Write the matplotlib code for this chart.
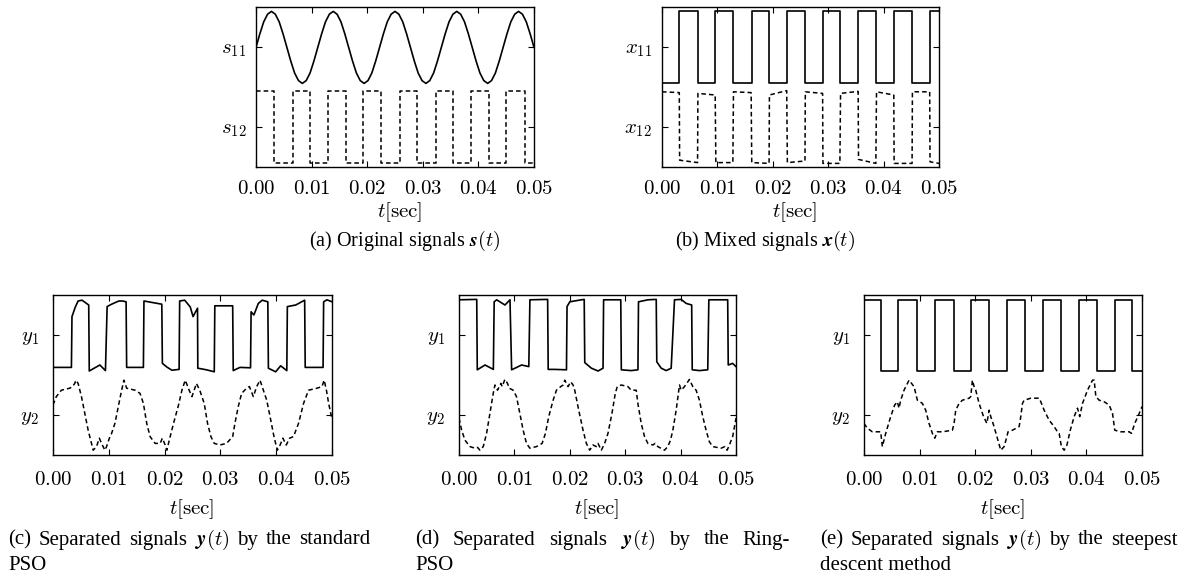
import numpy as np
import matplotlib
matplotlib.use("Agg")
import matplotlib.pyplot as plt

plt.rcParams["font.family"] = "serif"
plt.rcParams["font.serif"] = ["Liberation Serif", "DejaVu Serif"]
plt.rcParams["mathtext.fontset"] = "cm"

W, H = 1192, 578

# x axis (seconds)
xticks = [0.00, 0.01, 0.02, 0.03, 0.04, 0.05]
xtick_labels = ["0.00", "0.01", "0.02", "0.03", "0.04", "0.05"]

# ---- (a) original signals, time in ms ----
# s11 sampled every 1/16 period (4.5 periods over 50 ms)
s11_v = [0.99, 1.33, 1.63, 1.82, 1.89, 1.82, 1.63, 1.33, 0.99, 0.65, 0.35, 0.16, 0.09, 0.16, 0.35, 0.65,
         0.99, 1.33, 1.63, 1.82, 1.89, 1.82, 1.63, 1.33, 0.99, 0.65, 0.35, 0.16, 0.09, 0.16, 0.35, 0.65,
         0.99, 1.33, 1.63, 1.82, 1.89, 1.82, 1.63, 1.33, 0.99, 0.65, 0.35, 0.16, 0.09, 0.16, 0.35, 0.65,
         0.99, 1.33, 1.63, 1.82, 1.89, 1.82, 1.63, 1.33, 0.99, 0.65, 0.35, 0.16, 0.09, 0.16, 0.35, 0.65,
         0.99, 1.33, 1.63, 1.82, 1.89, 1.82, 1.63, 1.33, 0.99]
s12_t = [0, 3.23, 6.59, 9.70, 12.99, 16.11, 19.28, 22.57, 25.87, 28.98, 32.34, 35.45, 38.74, 41.92, 45.03, 48.32, 50]
s12_v = [-0.09, -1.91, -0.09, -1.91, -0.09, -1.91, -0.09, -1.91, -0.09, -1.91, -0.09, -1.91, -0.09, -1.91,
         -0.09, -1.91, -1.91]

# ---- (b) mixed signals ----
x11_t = [0, 3.12, 6.42, 9.6, 12.9, 16.2, 19.4, 22.5, 25.8, 29.0, 32.2, 35.4, 38.7, 41.8, 45.1, 48.3, 50]
x11_v = [0.11, 1.89, 0.11, 1.89, 0.11, 1.89, 0.11, 1.89, 0.11, 1.89, 0.11, 1.89, 0.11, 1.89, 0.11, 1.89, 1.89]
x12_t = [0, 3.12, 3.18, 6.42, 6.48, 9.6, 9.72, 12.79, 12.9, 16.09, 16.2, 19.33, 19.39, 22.51, 22.63, 25.81,
         25.87, 28.99, 29.05, 32.11, 32.23, 35.41, 35.47, 38.6, 38.72, 41.84, 41.9, 45.14, 45.2, 48.32, 48.38, 50]
x12_v = [-0.12, -0.14, -1.83, -1.89, -0.16, -0.2, -1.89, -1.89, -0.12, -0.14, -1.89, -1.91, -0.2, -0.09, -1.89,
         -1.85, -0.12, -0.16, -1.91, -1.91, -0.16, -0.11, -1.81, -1.91, -0.12, -0.2, -1.91, -1.91, -0.12, -0.12,
         -1.87, -1.91]

# ---- (c) standard PSO ----
c_y1_t = [0, 3.3, 3.4, 4.0, 4.5, 5.2, 6.4, 6.5, 7.5, 8.4, 9.4, 9.7, 10.5, 11.8, 12.5, 13.1, 13.2, 16.2, 16.3,
          19.5, 19.6, 20.4, 21.3, 22.6, 22.7, 23.6, 24.6, 25.1, 25.9, 25.95, 27.5, 28.9, 29.0, 32.2, 32.3, 33.5,
          35.4, 35.5, 36.0, 36.8, 37.5, 38.5, 38.6, 39.9, 40.8, 41.9, 42.0, 43.5, 45.1, 45.2, 48.4, 48.5, 49.1, 50]
c_y1_v = [0.19, 0.19, 1.46, 1.7, 1.85, 1.87, 1.75, 0.1, 0.18, 0.25, 0.11, 1.71, 1.77, 1.85, 1.85, 1.83, 0.19,
          0.19, 1.85, 1.77, 0.29, 0.2, 0.12, 0.14, 1.85, 1.87, 1.7, 1.46, 1.67, 0.17, 0.13, 0.08, 1.73, 1.73,
          0.11, 0.19, 0.18, 1.58, 1.5, 1.79, 1.87, 1.83, 0.17, 0.08, 0.23, 0.11, 1.71, 1.75, 1.87, 0.19, 0.19,
          1.83, 1.88, 1.83]
c_y2_t = [0, 0.6, 1.5, 3.0, 3.5, 3.9, 4.1, 4.5, 5.1, 5.7, 6.3, 6.9, 7.2, 7.8, 8.3, 8.7, 9.3, 9.6, 10.1, 10.5,
          11.1, 11.7, 12.3, 12.7, 13.2, 14.7, 15.6, 16.2, 16.8, 17.4, 18.3, 19.2, 19.6, 20.1, 20.4, 21.0, 21.6,
          22.5, 23.1, 23.7, 24.4, 24.9, 25.3, 25.7, 26.3, 27.1, 27.7, 28.3, 28.9, 29.9, 31.1, 32.2, 32.6, 33.2,
          33.8, 34.7, 35.2, 35.9, 36.5, 37.1, 37.7, 38.3, 38.9, 39.6, 40.2, 40.7, 41.2, 41.8, 42.4, 43.1, 44.0,
          44.9, 45.8, 47.3, 48.2, 48.6, 49.0, 49.4, 49.9]
c_y2_v = [-0.75, -0.54, -0.38, -0.33, -0.29, -0.21, -0.13, -0.21, -0.54, -0.96, -1.38, -1.71, -1.88, -1.79,
          -1.58, -1.71, -1.88, -1.79, -1.58, -1.46, -1.21, -0.79, -0.38, -0.13, -0.33, -0.38, -0.46, -0.71,
          -1.21, -1.54, -1.71, -1.71, -1.58, -1.75, -1.88, -1.54, -1.21, -0.75, -0.38, -0.13, -0.38, -0.54,
          -0.38, -0.21, -0.38, -0.71, -1.21, -1.54, -1.71, -1.75, -1.71, -1.54, -1.21, -0.79, -0.46, -0.33,
          -0.29, -0.54, -0.29, -0.13, -0.38, -0.63, -1.04, -1.54, -1.88, -1.75, -1.58, -1.75, -1.58, -1.54,
          -1.21, -0.71, -0.38, -0.33, -0.29, -0.13, -0.38, -0.71, -1.04]

# ---- (d) Ring-PSO ----
d_y1_t = [0, 3.2, 3.3, 4.7, 6.2, 6.35, 6.8, 8.3, 9.2, 9.5, 11.3, 12.6, 12.8, 16.0, 16.1, 17.3, 19.4, 19.5, 20.0,
          22.1, 22.6, 22.7, 23.9, 25.1, 26.0, 26.1, 29.2, 29.3, 31.1, 32.3, 32.4, 34.1, 35.6, 35.7, 36.5, 37.4,
          38.3, 38.9, 40.1, 41.0, 42.0, 42.1, 43.4, 44.9, 45.1, 48.5, 48.6, 49.4, 50]
d_y1_v = [1.88, 1.89, 0.13, 0.25, 0.14, 1.83, 1.88, 1.75, 1.88, 0.13, 0.25, 0.21, 1.88, 1.89, 0.14, 0.14, 0.13,
          1.71, 1.83, 1.88, 1.89, 0.31, 0.17, 0.1, 0.17, 1.88, 1.88, 0.13, 0.11, 0.13, 1.83, 1.88, 1.89, 0.33,
          0.17, 0.11, 0.17, 1.88, 1.89, 1.79, 1.75, 0.13, 0.11, 0.13, 1.88, 1.88, 0.25, 0.29, 0.21]
d_y2_t = [0, 0.48, 1.08, 1.98, 2.88, 3.36, 3.78, 4.38, 4.98, 5.58, 6.18, 6.48, 6.96, 7.56, 7.8, 8.28, 8.76, 9.06,
          9.78, 10.38, 10.98, 11.58, 12.18, 12.79, 13.99, 15.0, 15.6, 16.2, 16.99, 17.59, 18.37, 18.79, 19.09,
          19.69, 20.17, 20.59, 20.89, 21.61, 22.39, 22.99, 23.59, 24.19, 24.79, 25.09, 25.69, 26.29, 26.89,
          27.61, 28.21, 28.57, 29.29, 30.49, 31.09, 31.99, 32.29, 32.89, 33.49, 34.09, 34.99, 35.41, 35.89,
          37.09, 37.69, 38.18, 38.6, 39.2, 39.6, 39.8, 40.1, 40.7, 41.3, 41.6, 42.2, 42.8, 43.4, 44.0, 44.6,
          45.2, 45.8, 47.3, 48.0, 48.4, 48.8, 49.4, 50]
d_y2_v = [-1.08, -1.38, -1.63, -1.79, -1.83, -1.81, -1.88, -1.79, -1.46, -0.96, -0.46, -0.25, -0.38, -0.21,
          -0.29, -0.11, -0.21, -0.33, -0.38, -0.54, -0.96, -1.38, -1.71, -1.83, -1.79, -1.71, -1.46, -1.04,
          -0.63, -0.38, -0.29, -0.25, -0.13, -0.29, -0.17, -0.25, -0.38, -0.88, -1.38, -1.71, -1.88, -1.75,
          -1.79, -1.71, -1.88, -1.71, -1.46, -0.96, -0.46, -0.29, -0.25, -0.29, -0.38, -0.38, -0.71, -1.21,
          -1.54, -1.71, -1.75, -1.71, -1.79, -1.88, -1.79, -1.63, -1.38, -0.88, -0.46, -0.25, -0.38, -0.29,
          -0.17, -0.11, -0.29, -0.38, -0.63, -1.04, -1.38, -1.67, -1.79, -1.83, -1.79, -1.88, -1.75, -1.54,
          -1.08]

# ---- (e) steepest descent ----
e_y1_t = [0, 3.1, 6.2, 9.55, 12.8, 16.1, 19.27, 22.57, 25.75, 29.0, 32.17, 35.35, 38.66, 41.84, 45.08, 48.26, 50]
e_y1_v = [1.88, 0.11, 1.88, 0.11, 1.88, 0.11, 1.88, 0.11, 1.88, 0.11, 1.88, 0.11, 1.88, 0.11, 1.88, 0.11, 0.11]
e_y2_t = [0, 0.6, 1.5, 3.0, 3.3, 3.9, 4.8, 5.52, 6.0, 6.3, 6.6, 7.2, 8.1, 9.0, 9.6, 10.5, 11.1, 11.7, 12.3,
          12.73, 13.2, 14.1, 15.9, 16.2, 16.5, 17.1, 17.7, 18.9, 19.2, 19.5, 19.8, 20.1, 20.7, 21.5, 22.1, 22.5,
          22.8, 23.3, 23.9, 24.6, 25.2, 25.7, 25.9, 26.7, 27.9, 28.2, 28.5, 28.8, 30.0, 31.5, 31.8, 32.4, 33.3,
          34.2, 34.8, 35.1, 35.5, 36.0, 36.5, 37.1, 37.8, 38.4, 38.8, 39.3, 40.2, 41.1, 41.4, 41.7, 42.3, 43.2,
          44.1, 44.7, 45.1, 46.2, 47.7, 48.1, 48.7, 49.5, 50]
e_y2_v = [-1.21, -1.33, -1.42, -1.42, -1.79, -1.46, -1.04, -0.75, -0.67, -0.83, -0.63, -0.38, -0.13, -0.29,
          -0.63, -0.71, -0.88, -1.21, -1.46, -1.58, -1.42, -1.42, -1.38, -1.21, -0.88, -0.71, -0.63, -0.58,
          -0.54, -0.13, -0.29, -0.38, -0.71, -1.04, -1.21, -0.88, -1.04, -1.25, -1.54, -1.88, -1.79, -1.54,
          -1.42, -1.38, -1.29, -1.04, -0.71, -0.63, -0.58, -0.58, -0.67, -0.88, -1.13, -1.29, -1.42, -1.46,
          -1.79, -1.88, -1.75, -1.38, -1.04, -0.83, -1.04, -0.71, -0.38, -0.13, -0.13, -0.54, -0.63, -0.67,
          -0.75, -0.96, -1.38, -1.42, -1.42, -1.46, -1.21, -0.96, -0.79]

fig = plt.figure(figsize=(W / 100, H / 100), dpi=100)

SOLID = dict(color="black", lw=1.2)
DASHED = dict(color="black", lw=1.1, ls=(0, (3, 2)))


def ms(t):
    return np.array(t) / 1000.0


def panel(box, ylabels, ypad, xpad):
    l, t, r, b = box
    ax = fig.add_axes([l / W, 1 - b / H, (r - l) / W, (b - t) / H])
    ax.set_xlim(0, 0.05)
    ax.set_ylim(-2, 2)
    ax.set_xticks(xticks)
    ax.set_xticklabels(["$%s$" % s for s in xtick_labels])
    ax.set_yticks([1, -1])
    ax.set_yticklabels(ylabels)
    ax.tick_params(direction="in", top=True, right=True, length=4, width=0.8, labelsize=15)
    ax.tick_params(axis="x", pad=xpad)
    ax.tick_params(axis="y", pad=ypad)
    for sp in ax.spines.values():
        sp.set_linewidth(1.0)
    return ax


def justify(words, x0, x1, y, fs=15):
    texts = [fig.text(0, 1 - y / H, w, fontsize=fs, ha="left", va="center") for w in words]
    r = fig.canvas.get_renderer()
    widths = [t.get_window_extent(r).width for t in texts]
    gap = (x1 - x0 - sum(widths)) / (len(words) - 1)
    x = x0
    for t, w in zip(texts, widths):
        t.set_x(x / W)
        x += w + gap


# (a)
ax = panel((256, 7, 534, 167), ["$s_{11}$", "$s_{12}$"], 7, 9.5)
ax.plot(ms(np.linspace(0, 50, len(s11_v))), s11_v, **SOLID)
ax.plot(ms(s12_t), s12_v, drawstyle="steps-post", **DASHED)

# (b)
ax = panel((662, 7, 939, 167), ["$x_{11}$", "$x_{12}$"], 7, 9.5)
ax.plot(ms(x11_t), x11_v, drawstyle="steps-post", **SOLID)
ax.plot(ms(x12_t), x12_v, **DASHED)

# (c)
ax = panel((53, 295, 332, 455), ["$y_1$", "$y_2$"], 10, 11.5)
ax.plot(ms(c_y1_t), c_y1_v, **SOLID)
ax.plot(ms(c_y2_t), c_y2_v, **DASHED)

# (d)
ax = panel((459, 295, 736, 455), ["$y_1$", "$y_2$"], 10, 11.5)
ax.plot(ms(d_y1_t), d_y1_v, **SOLID)
ax.plot(ms(d_y2_t), d_y2_v, **DASHED)

# (e)
ax = panel((864, 295, 1142, 455), ["$y_1$", "$y_2$"], 10, 11.5)
ax.plot(ms(e_y1_t), e_y1_v, drawstyle="steps-post", **SOLID)
ax.plot(ms(e_y2_t), e_y2_v, **DASHED)

# x labels
for cx, cy in [(400, 212), (795, 212), (192, 509), (597, 509), (1003, 509)]:
    fig.text(cx / W, 1 - cy / H, r"$t[\mathrm{sec}]$", fontsize=15, ha="center", va="center")

# captions
fig.text(405 / W, 1 - 241 / H, r"(a) Original signals $\boldsymbol{s}(t)$", fontsize=14.5,
         ha="center", va="center")
fig.text(765 / W, 1 - 241 / H, r"(b) Mixed signals $\boldsymbol{x}(t)$", fontsize=14.5,
         ha="center", va="center")

justify(["(c)", "Separated", "signals", r"$\boldsymbol{y}(t)$", "by", "the", "standard"], 8, 370, 540)
fig.text(8 / W, 1 - 566 / H, "PSO", fontsize=15, ha="left", va="center")
justify(["(d)", "Separated", "signals", r"$\boldsymbol{y}(t)$", "by", "the", "Ring-"], 415, 790, 540)
fig.text(415 / W, 1 - 566 / H, "PSO", fontsize=15, ha="left", va="center")
justify(["(e)", "Separated", "signals", r"$\boldsymbol{y}(t)$", "by", "the", "steepest"], 820, 1178, 540)
fig.text(820 / W, 1 - 566 / H, "descent method", fontsize=15, ha="left", va="center")

fig.savefig("out.png", dpi=100)
